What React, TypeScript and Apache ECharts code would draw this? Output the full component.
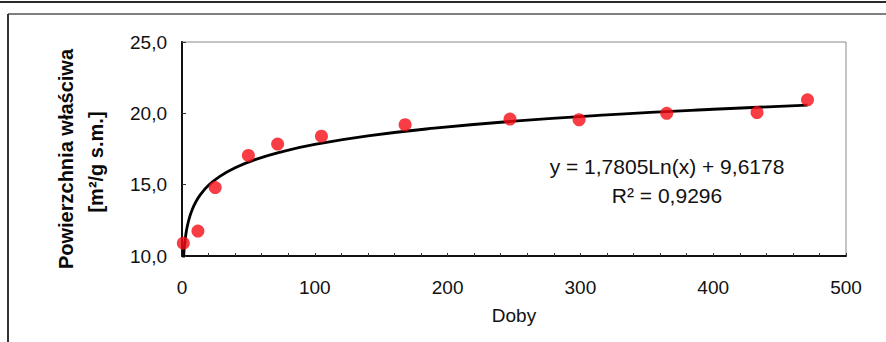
import React, { useEffect, useRef } from "react";
import * as echarts from "echarts";

// Measured points (Doby, Powierzchnia właściwa)
const DAYS = [1, 12, 25, 50, 72, 105, 168, 247, 299, 365, 433, 471];
const SURFACE = [10.9, 11.75, 14.8, 17.05, 17.85, 18.4, 19.2, 19.6, 19.55, 20.0, 20.05, 20.95];

// Logarithmic trendline as printed on the chart: y = A·ln(x) + B
const TREND_A = 1.7805;
const TREND_B = 9.6178;
const TREND_X = [1, 1.3, 1.6, 2, 3, 4, 6, 8, 10, 14, 20, 28, 40, 55, 75, 100, 140, 190, 250, 320, 400, 471];

const X_TICKS = [0, 100, 200, 300, 400, 500];
const Y_TICKS = ["10,0", "15,0", "20,0", "25,0"];

const EQ_LINE = "y = 1,7805Ln(x) + 9,6178";
const R2_LINE = "R² = 0,9296";
const Y_TITLE_1 = "Powierzchnia właściwa";
const Y_TITLE_2 = "[m²/g s.m.]";
const X_TITLE = "Doby";

const FONT = "'Liberation Sans', Arial, sans-serif";

export default function App() {
  const ref = useRef<HTMLDivElement>(null);

  useEffect(() => {
    if (!ref.current) return;
    const chart = echarts.init(ref.current, null, { renderer: "svg" });

    const scatterData = DAYS.map((d, i) => [d, SURFACE[i]]);
    const trendData = TREND_X.map((x) => [x, TREND_A * Math.log(x) + TREND_B]);

    chart.setOption({
      animation: false,
      backgroundColor: "#ffffff",
      textStyle: { fontFamily: FONT },
      grid: {
        left: 182,
        top: 42,
        right: 40,
        bottom: 86,
        show: true,
        borderColor: "#8a8a8a",
        borderWidth: 1,
        backgroundColor: "transparent",
      },
      xAxis: {
        type: "value",
        min: X_TICKS[0],
        max: X_TICKS[X_TICKS.length - 1],
        interval: 100,
        name: X_TITLE,
        nameLocation: "middle",
        nameGap: 50,
        nameTextStyle: { fontSize: 19, color: "#111", fontFamily: FONT },
        axisLine: { show: true, onZero: false, lineStyle: { color: "#111", width: 2 } },
        axisTick: { show: true, inside: true, length: 3, lineStyle: { color: "#333", width: 1 } },
        minorTick: { show: true, splitNumber: 5, length: 3, lineStyle: { color: "#333", width: 1 } },
        axisLabel: { fontSize: 19, color: "#111", margin: 22, fontFamily: FONT },
        splitLine: { show: false },
      },
      yAxis: {
        type: "value",
        min: 10,
        max: 25,
        interval: 5,
        axisLine: { show: true, onZero: false, lineStyle: { color: "#111", width: 2 } },
        axisTick: { show: true, inside: true, length: 4, lineStyle: { color: "#333", width: 1 } },
        axisLabel: {
          fontSize: 19,
          color: "#111",
          margin: 15,
          fontFamily: FONT,
          formatter: (v: number) => Y_TICKS[Math.round((v - 10) / 5)] ?? "",
        },
        splitLine: { show: false },
      },
      series: [
        {
          type: "line",
          data: trendData,
          smooth: true,
          showSymbol: false,
          symbol: "none",
          clip: true,
          lineStyle: { color: "#000", width: 2.8 },
          z: 2,
        },
        {
          type: "scatter",
          data: scatterData,
          symbol: "circle",
          symbolSize: 13,
          itemStyle: { color: "#f70d17" },
          z: 3,
        },
      ],
      graphic: [
        { type: "line", shape: { x1: 0, y1: 2, x2: 886, y2: 2 }, style: { stroke: "#2a2a2a", lineWidth: 2 } },
        { type: "line", shape: { x1: 8, y1: 14, x2: 886, y2: 14 }, style: { stroke: "#555", lineWidth: 1.5 } },
        { type: "line", shape: { x1: 8, y1: 14, x2: 8, y2: 342 }, style: { stroke: "#333", lineWidth: 2 } },
        {
          type: "text",
          x: 66,
          y: 159,
          rotation: Math.PI / 2,
          style: {
            text: Y_TITLE_1,
            fontSize: 20,
            fontWeight: "bold",
            fontFamily: FONT,
            fill: "#0a0a0a",
            align: "center",
            verticalAlign: "middle",
          },
        },
        {
          type: "text",
          x: 96,
          y: 162,
          rotation: Math.PI / 2,
          style: {
            text: Y_TITLE_2,
            fontSize: 20,
            fontWeight: "bold",
            fontFamily: FONT,
            fill: "#0a0a0a",
            align: "center",
            verticalAlign: "middle",
          },
        },
        {
          type: "text",
          x: 667,
          y: 166,
          style: {
            text: EQ_LINE,
            fontSize: 21,
            fontFamily: FONT,
            fill: "#111",
            align: "center",
            verticalAlign: "middle",
          },
        },
        {
          type: "text",
          x: 667,
          y: 195,
          style: {
            text: R2_LINE,
            fontSize: 21,
            fontFamily: FONT,
            fill: "#111",
            align: "center",
            verticalAlign: "middle",
          },
        },
      ],
    });

    return () => chart.dispose();
  }, []);

  return (
    <div
      ref={ref}
      style={{ position: "fixed", left: 0, top: 0, width: 886, height: 342, background: "#fff" }}
    />
  );
}
